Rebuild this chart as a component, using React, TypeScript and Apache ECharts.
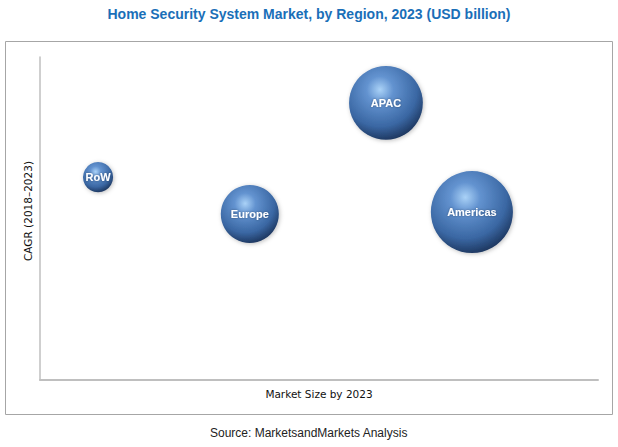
import React, { useEffect, useRef } from "react";
import * as echarts from "echarts";

const regions = ["RoW", "Europe", "APAC", "Americas"];
const marketSize = [10.4, 37.6, 62.0, 77.4]; // relative position on x (market size by 2023)
const cagr = [62.8, 51.4, 85.8, 52.0]; // relative position on y (CAGR)
const bubbleValue = [3.5, 13, 21, 26]; // bubble magnitude

export default function App() {
  const ref = useRef<HTMLDivElement>(null);
  useEffect(() => {
    if (!ref.current) return;
    const chart = echarts.init(ref.current, null, { renderer: "svg" });
    const gradient = new echarts.graphic.RadialGradient(0.42, 0.32, 0.72, [
      { offset: 0, color: "#aad2f7" },
      { offset: 0.25, color: "#6393d0" },
      { offset: 0.7, color: "#3a67a3" },
      { offset: 1, color: "#1a3157" },
    ]);
    chart.setOption({
      animation: false,
      backgroundColor: "#ffffff",
      title: {
        text: "Home Security System Market, by Region, 2023 (USD billion)",
        left: "center",
        top: 2,
        textStyle: {
          fontFamily: "Liberation Sans",
          fontWeight: "bold",
          fontSize: 14,
          color: "#1a6fb8",
        },
      },
      graphic: [
        {
          type: "rect",
          shape: { x: 5.5, y: 41.5, width: 607, height: 373 },
          style: { fill: "none", stroke: "#a6a6a6", lineWidth: 1 },
          silent: true,
        },
        {
          type: "text",
          x: 28,
          y: 211,
          rotation: Math.PI / 2,
          style: {
            text: "CAGR (2018\u20132023)",
            font: "10.5px 'DejaVu Sans'",
            fill: "#111111",
            align: "center",
            verticalAlign: "middle",
          },
        },
        {
          type: "text",
          left: "center",
          top: 427,
          style: {
            text: "Source: MarketsandMarkets Analysis",
            font: "12px 'Liberation Sans'",
            fill: "#222222",
          },
        },
      ],
      grid: { left: 40, right: 20, top: 57, bottom: 67 },
      xAxis: {
        type: "value",
        min: 0,
        max: 100,
        name: "Market Size by 2023",
        nameLocation: "middle",
        nameGap: 8,
        nameTextStyle: { fontFamily: "DejaVu Sans", fontSize: 10.5, color: "#111" },
        axisLine: { show: true, lineStyle: { color: "#bfbfbf", width: 2 } },
        axisTick: { show: false },
        axisLabel: { show: false },
        splitLine: { show: false },
      },
      yAxis: {
        type: "value",
        min: 0,
        max: 100,
        axisLine: { show: true, lineStyle: { color: "#bfbfbf", width: 1.5 } },
        axisTick: { show: false },
        axisLabel: { show: false },
        splitLine: { show: false },
      },
      series: [
        {
          type: "scatter",
          data: regions.map((r, i) => ({
            name: r,
            value: [marketSize[i], cagr[i], bubbleValue[i]],
          })),
          symbolSize: (v: number[]) => Math.sqrt(v[2]) * 16.1,
          itemStyle: {
            color: gradient,
            opacity: 1,
            shadowColor: "rgba(0,0,0,0.25)",
            shadowBlur: 4,
            shadowOffsetX: 1,
            shadowOffsetY: 1,
          },
          label: {
            show: true,
            position: "inside",
            formatter: "{b}",
            color: "#ffffff",
            fontFamily: "Liberation Sans",
            fontWeight: "bold",
            fontSize: 11,
            textShadowColor: "rgba(0,0,0,0.4)",
            textShadowBlur: 2,
          },
        },
      ],
    });
    return () => chart.dispose();
  }, []);
  return (
    <div
      ref={ref}
      style={{ position: "absolute", left: 0, top: 0, width: 618, height: 447 }}
    />
  );
}
